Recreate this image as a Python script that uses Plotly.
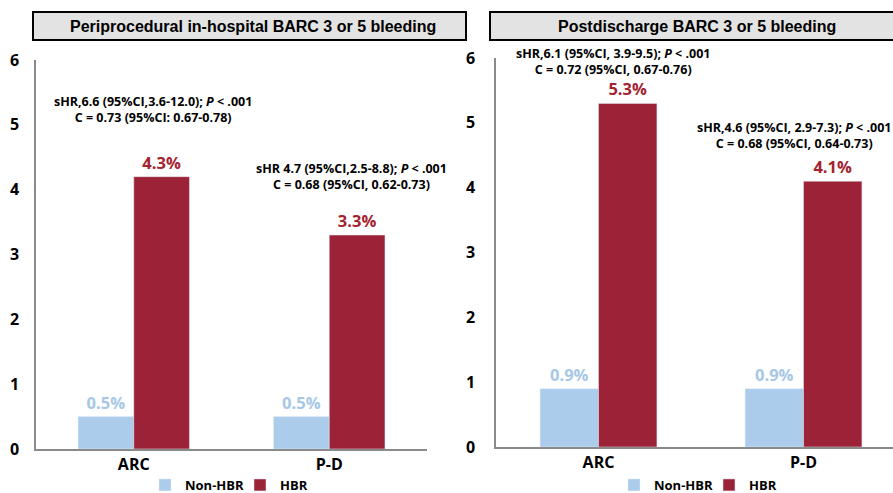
import plotly.graph_objects as go

categories = ["ARC", "P-D"]
series_names = ["Non-HBR", "HBR"]

# Periprocedural in-hospital (left panel)
left_non_hbr = [0.5, 0.5]
left_hbr = [4.2, 3.3]
left_non_hbr_labels = ["0.5%", "0.5%"]
left_hbr_labels = ["4.3%", "3.3%"]

# Postdischarge (right panel)
right_non_hbr = [0.9, 0.9]
right_hbr = [5.3, 4.1]
right_non_hbr_labels = ["0.9%", "0.9%"]
right_hbr_labels = ["5.3%", "4.1%"]

titles = ["Periprocedural in-hospital BARC 3 or 5 bleeding", "Postdischarge BARC 3 or 5 bleeding"]
stats_left = [
    "sHR,6.6 (95%CI,3.6-12.0); <i>P</i> < .001<br>C = 0.73 (95%CI: 0.67-0.78)",
    "sHR 4.7 (95%CI,2.5-8.8); <i>P</i> < .001<br>C = 0.68 (95%CI, 0.62-0.73)",
]
stats_right = [
    "sHR,6.1 (95%CI, 3.9-9.5); <i>P</i> < .001<br>C = 0.72 (95%CI, 0.67-0.76)",
    "sHR,4.6 (95%CI, 2.9-7.3); <i>P</i> < .001<br>C = 0.68 (95%CI, 0.64-0.73)",
]
y_ticks = [0, 1, 2, 3, 4, 5, 6]

BLUE = "#abcdeb"
RED = "#9c2337"
BLUE_TXT = "#a6c8e6"
RED_TXT = "#a5222f"
FONT = "Open Sans"

W, H = 893, 493

fig = go.Figure()

def add_bars(vals_n, vals_h, lab_n, lab_h, xa, ya, legend, show):
    fig.add_trace(go.Bar(x=categories, y=vals_n, name=series_names[0], marker_color=BLUE,
                         text=lab_n, textposition="outside", cliponaxis=False,
                         textfont=dict(family=FONT, size=16.5, color=BLUE_TXT, weight="bold"),
                         xaxis=xa, yaxis=ya, legend=legend, showlegend=show))
    fig.add_trace(go.Bar(x=categories, y=vals_h, name=series_names[1], marker_color=RED,
                         text=lab_h, textposition="outside", cliponaxis=False,
                         textfont=dict(family=FONT, size=16.5, color=RED_TXT, weight="bold"),
                         xaxis=xa, yaxis=ya, legend=legend, showlegend=show))

add_bars(left_non_hbr, left_hbr, left_non_hbr_labels, left_hbr_labels, "x", "y", "legend", True)
add_bars(right_non_hbr, right_hbr, right_non_hbr_labels, right_hbr_labels, "x2", "y2", "legend2", True)

axis_common = dict(showline=True, linecolor="#8a8a8a", linewidth=1.5, showgrid=False,
                   zeroline=False, automargin=False)

legend_common = dict(orientation="h", xanchor="left", y=(H - 485) / H, yanchor="middle",
                     font=dict(family=FONT, size=13, weight="bold"), itemwidth=30,
                     entrywidth=50, bgcolor="rgba(0,0,0,0)")

fig.update_layout(
    width=W, height=H,
    margin=dict(l=0, r=0, t=0, b=0, autoexpand=False),
    paper_bgcolor="white", plot_bgcolor="white",
    barmode="group", bargap=0.43, bargroupgap=0,
    font=dict(family=FONT, color="black"),
    xaxis=dict(domain=[36 / W, 427 / W], range=[-0.5, 1.5], anchor="y",
               tickfont=dict(family=FONT, size=16, weight="bold"), ticks="", **axis_common),
    yaxis=dict(domain=[(H - 449) / H, (H - 60) / H], range=[0, 6], anchor="x",
               tickvals=y_ticks, tickfont=dict(family=FONT, size=16, weight="bold"),
               ticklabelstandoff=12, ticks="", **axis_common),
    xaxis2=dict(domain=[496 / W, 1.0], range=[-0.5, -0.5 + (W - 496) / 205.0], anchor="y2",
                tickfont=dict(family=FONT, size=16, weight="bold"), ticks="", **axis_common),
    yaxis2=dict(domain=[(H - 447) / H, (H - 58) / H], range=[0, 6], anchor="x2",
                tickvals=y_ticks, tickfont=dict(family=FONT, size=16, weight="bold"),
                ticklabelstandoff=16, ticks="", **axis_common),
    legend=dict(x=145 / W, **legend_common),
    legend2=dict(x=614 / W, **legend_common),
)

# Title boxes
fig.add_shape(type="rect", xref="paper", yref="paper", x0=33 / W, x1=466 / W,
              y0=(H - 40) / H, y1=(H - 12) / H, fillcolor="#e3e3e3", line=dict(color="black", width=2))
fig.add_shape(type="rect", xref="paper", yref="paper", x0=490 / W, x1=1.02,
              y0=(H - 40) / H, y1=(H - 12) / H, fillcolor="#e3e3e3", line=dict(color="black", width=2))
fig.add_annotation(text="<b>" + titles[0] + "</b>", xref="paper", yref="paper", x=253 / W,
                   y=(H - 26) / H, xanchor="center", yanchor="middle", showarrow=False,
                   font=dict(family="Liberation Sans", size=16))
fig.add_annotation(text="<b>" + titles[1] + "</b>", xref="paper", yref="paper", x=697 / W,
                   y=(H - 26) / H, xanchor="center", yanchor="middle", showarrow=False,
                   font=dict(family="Liberation Sans", size=16))

# Statistic annotations
stat_pos = [(153, 110), (351, 177), (613, 62), (794, 135)]
for (px, py), txt in zip(stat_pos, stats_left + stats_right):
    fig.add_annotation(text="<b>" + txt + "</b>", xref="paper", yref="paper", x=px / W,
                       y=(H - py) / H, xanchor="center", yanchor="middle", showarrow=False,
                       align="center", font=dict(family=FONT, size=12.5, color="black"))

fig.write_html("out.html", post_script="document.body.style.margin='0';",
               config={"displayModeBar": False})
